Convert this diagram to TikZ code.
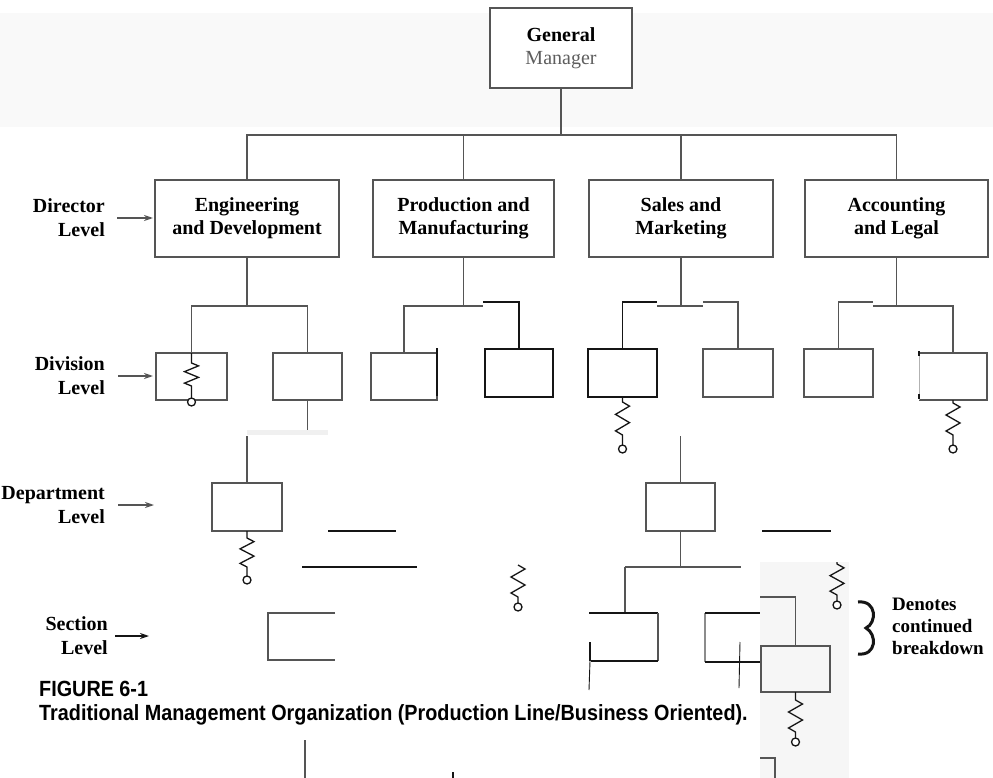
\documentclass[tikz,border=0pt]{standalone}
\usepackage{fontspec}
\usepackage{graphicx}
\setmainfont{Liberation Serif}
\setsansfont{Liberation Sans}
\usetikzlibrary{arrows.meta}

\definecolor{lgray}{HTML}{555555}
\definecolor{ink}{HTML}{151515}
\definecolor{paper}{HTML}{F6F6F6}
\definecolor{band}{HTML}{F9F9F9}
\definecolor{mgr}{HTML}{5E5E5E}

% spring symbol for "continued breakdown": start, lead, zigzag height, tail
\newcommand{\spring}[4]{%
  \draw[rline] #1 -- ++(0,#2) -- ++(7,#3/8) -- ++(-14,#3/4) -- ++(14,#3/4)
     -- ++(-14,#3/4) -- ++(7,#3/8) -- ++(0,#4) coordinate (springend);
  \draw[rline, fill=white] (springend) ++(0,4) circle[radius=4pt];
}

\begin{document}
\begin{tikzpicture}[x=1pt,y=-1pt,
  conn/.style={draw=lgray, line width=1.6pt},
  bconn/.style={draw=ink, line width=1.8pt},
  box/.style={draw=lgray, line width=1.6pt, inner sep=0pt, outer sep=0pt, anchor=north west},
  bbox/.style={box, draw=ink, line width=1.8pt},
  boxtext/.style={align=center, font=\bfseries\fontsize{20}{23}\selectfont},
  lvl/.style={anchor=east, align=right, inner sep=0pt, font=\bfseries\fontsize{20}{24}\selectfont},
  lvlarrow/.style={draw=lgray, line width=2pt, -{Stealth[length=9pt,width=6pt]}},
  rline/.style={draw=ink, line width=1.3pt},
  captext/.style={anchor=west, inner sep=0pt, font=\sffamily\bfseries\fontsize{22}{24}\selectfont},
]
\useasboundingbox (0,0) rectangle (993,778);
\fill[white] (0,0) rectangle (993,778);
\fill[band] (0,13) rectangle (993,127);
\fill[paper] (760,562) rectangle (849,778);

% ---------- top ----------
\node[box, fill=white, boxtext, minimum width=142pt, minimum height=80pt] (gm) at (490,8)
  {General\\{\mdseries\color{mgr}Manager}};

% ---------- director level ----------
\node[box, boxtext, minimum width=184pt, minimum height=77pt] (eng)   at (155,180) {Engineering\\and Development};
\node[box, boxtext, minimum width=181pt, minimum height=77pt] (prod)  at (373,180) {Production and\\Manufacturing};
\node[box, boxtext, minimum width=184pt, minimum height=77pt] (sales) at (589,180) {Sales and\\Marketing};
\node[box, boxtext, minimum width=183pt, minimum height=77pt] (acc)   at (805,180) {Accounting\\and Legal};

\coordinate (busY) at (0,135);
\draw[conn] (gm.south) -- (gm.south |- busY);
\draw[conn] (eng.north) -- (eng.north |- busY) -- (acc.north |- busY) -- (acc.north);
\draw[conn] (prod.north) -- (prod.north |- busY);
\draw[conn] (sales.north) -- (sales.north |- busY);

% ---------- division level ----------
\node[box,  minimum width=71pt, minimum height=47pt] (d1) at (156,353) {};
\node[box,  minimum width=69pt, minimum height=47pt] (d2) at (273,353) {};
\node[box,  minimum width=66pt, minimum height=47pt] (d3) at (371,353) {};
\node[bbox, minimum width=68pt, minimum height=48pt] (d4) at (485,349) {};
\node[bbox, minimum width=69pt, minimum height=48pt] (d5) at (588,349) {};
\node[box,  minimum width=70pt, minimum height=48pt] (d6) at (703,349) {};
\node[box,  minimum width=69pt, minimum height=48pt] (d7) at (804,349) {};
\node[inner sep=0pt, outer sep=0pt, anchor=north west, minimum width=68pt, minimum height=47pt] (d8) at (919,353) {};

\coordinate (subY) at (0,306);
\draw[conn] (eng.south) -- (eng.south |- subY);
\draw[conn] (d1.north) |- (d2.north |- subY) -- (d2.north);

\draw[conn] (prod.south) -- (prod.south |- subY);
\draw[conn] (d3.north) |- (483,306);
\draw[bconn] (483,302) -| (d4.north);
\draw[ink, line width=2.2pt] (437,348) -- (437,396);

\draw[conn] (sales.south) -- (sales.south |- subY);
\draw[bconn] (d5.north) |- (657,302);
\draw[conn] (657,306) -- (703,306);
\draw[conn] (703,302) -| (d6.north);
\draw[conn] (d7.north) |- (873,302);

\draw[conn] (acc.south) -- (acc.south |- subY);
\draw[conn] (873,306) -| (d8.north);
\draw[conn] (d8.north west) -- (d8.north east) -- (d8.south east) -- (d8.south west);
\draw[black!30, line width=0.6pt] (d8.north west) -- (d8.south west);
\fill[ink] (918,351) rectangle (920,356);
\fill[ink] (918,394) rectangle (920,399);

\spring{(d1.north)}{10}{23}{12}
\spring{(d5.south)}{5}{33}{10}
\spring{(d8.south)}{3}{32}{10}

% ---------- department level ----------
\node[box, minimum width=70pt, minimum height=48pt] (dp1) at (212,483) {};
\node[box, minimum width=69pt, minimum height=48pt] (dp2) at (646,483) {};

\draw[conn] (d2.south) -- ++(0,35);
\fill[black!6] (247,430) rectangle (328,435);
\draw[conn] (dp1.north) -- ++(0,-47);
\spring{(dp1.south)}{7}{29}{9}
\draw[bconn] (328,531) -- (396,531);
\draw[bconn] (302,567) -- (417,567);

\draw[conn] (dp2.north) -- ++(0,-47);
\draw[conn] (dp2.south) -- ++(0,36);
\draw[conn] (625,567) -- (741,567);
\draw[bconn] (762,531) -- (831,531);

\coordinate (midspring) at (518,565);
\spring{(midspring)}{0}{32}{6}
\coordinate (rspring) at (837,562);
\spring{(rspring)}{2}{31}{6}

% ---------- section level ----------
\draw[conn] (335,613) -- (268,613) -- (268,660) -- (335,660);

\draw[conn] (625,567) -- (625,613);
\draw[bconn] (589,613) -- (658,613);
\draw[conn] (658,613) -- (658,661);
\draw[bconn] (591,661) -- (658,661);
\draw[ink, line width=2.4pt] (590,642) -- (590,661);
\draw[ink, line width=0.9pt] (590,661) -- (589,690);

\draw[draw=black!45, line width=2.2pt] (705,613) -- (705,662);
\draw[bconn] (705,613) -- (760,613);
\draw[bconn] (705,662) -- (760,662);
\draw[ink, line width=0.9pt] (740,642) -- (739,688);

\node[box, fill=paper, minimum width=69pt, minimum height=46pt] (sx) at (761,646) {};
\draw[conn] (760,597) -| (sx.north);
\spring{(sx.south)}{8}{32}{6}

% ---------- level labels ----------
\node[lvl] (lDir) at (105,218) {Director\\Level};
\node[lvl] (lDiv) at (105,376) {Division\\Level};
\node[lvl] (lDep) at (105,505) {Department\\Level};
\node[lvl] (lSec) at (108,636) {Section\\Level};
\draw[lvlarrow] ([xshift=12pt]lDir.east) -- ++(36,0);
\draw[lvlarrow] ([xshift=13pt]lDiv.east) -- ++(35,0);
\draw[lvlarrow] ([xshift=13pt]lDep.east) -- ++(36,0);
\draw[lvlarrow, draw=ink] ([xshift=7pt]lSec.east) -- ++(34,0);

% ---------- legend ----------
\draw[ink, line width=3pt] (858,602) .. controls (877,600) and (877,623) .. (866,628)
  .. controls (877,634) and (877,656) .. (858,654);
\node[anchor=west, align=left, inner sep=0pt, font=\bfseries\fontsize{19}{22}\selectfont] (legend) at (892,626)
  {Denotes\\continued\\breakdown};

% ---------- stray marks ----------
\draw[conn] (305,740) -- (305,778);
\draw[ink, line width=1.5pt] (453,772) -- (453,778);
\draw[conn] (760,758) -- (775,758) -- (775,778);

% ---------- caption ----------
\node[captext] (fignum) at (39,689) {\scalebox{0.9}[1]{FIGURE 6-1}};
\node[captext] (figcap) at (39,715)
  {\scalebox{0.9}[1]{Traditional Management Organization (Production Line/Business Oriented).}};
\end{tikzpicture}
\end{document}
